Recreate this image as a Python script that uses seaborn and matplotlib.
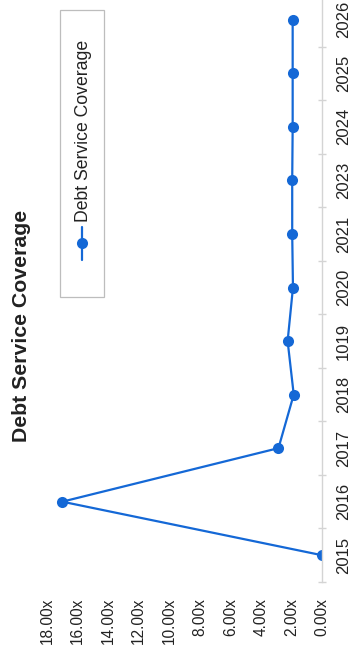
import numpy as np
import pandas as pd
import matplotlib
matplotlib.use("Agg")
import matplotlib.pyplot as plt
import seaborn as sns
from matplotlib.lines import Line2D
from matplotlib.patches import Rectangle

# ---- data ----
years = ['2015', '2016', '2017', '2018', '1019', '2020', '2021', '2023', '2024', '2025', '2026']
coverage = [0.0, 17.0, 2.85, 1.85, 2.25, 1.9, 1.95, 1.95, 1.92, 1.92, 1.92]
value_ticks = [0, 2, 4, 6, 8, 10, 12, 14, 16, 18]
value_labels = [f'{v:.2f}x' for v in value_ticks]
series_name = 'Debt Service Coverage'
title_text = 'Debt Service Coverage'

LINE_COLOR = '#1468d6'

sns.set_theme(style='white')
plt.rcParams['font.family'] = ['Liberation Sans', 'DejaVu Sans']

W, H = 353, 655
fig = plt.figure(figsize=(W / 100, H / 100), dpi=100)
fig.patch.set_facecolor('white')

# chart is drawn rotated: value axis runs right-to-left, categories bottom-to-top
ax = fig.add_axes([47 / W, 73 / H, 275 / W, 589 / H])
df = pd.DataFrame({'pos': np.arange(len(years)), 'value': coverage})
sns.lineplot(data=df, x='value', y='pos', orient='y', sort=False, estimator=None,
             marker='o', color=LINE_COLOR, linewidth=1.6, markersize=8,
             markeredgewidth=0, ax=ax, legend=False)

ax.set_xlim(18, 0)
ax.set_ylim(-0.5, len(years) - 0.5)
ax.set_xlabel('')
ax.set_ylabel('')

for s in ['left', 'top', 'bottom']:
    ax.spines[s].set_visible(False)
ax.spines['right'].set_color('#d4d4d4')
ax.spines['right'].set_linewidth(1.0)

ax.set_xticks(value_ticks)
ax.set_xticklabels(value_labels, rotation=90, fontsize=11.2, color='#222222')
ax.tick_params(axis='x', length=0, pad=11.5)

ax.yaxis.tick_right()
ax.set_yticks(np.arange(len(years)))
ax.set_yticklabels(years, rotation=90, va='center', fontsize=12, color='#222222')
ax.tick_params(axis='y', which='major', length=0, pad=10)
ax.set_yticks(np.arange(len(years) + 1) - 0.5, minor=True)
ax.tick_params(axis='y', which='minor', direction='inout', length=6,
               color='#d4d4d4', right=True, left=False)
ax.grid(False)

# title (rotated)
fig.text(22 / W, 1 - 326 / H, title_text, rotation=90, ha='center', va='center',
         fontsize=15.3, fontweight='bold', color='#222222')

# legend (rotated, drawn manually)
fig.patches.append(Rectangle((60 / W, 1 - 297 / H), 44 / W, 287 / H,
                             transform=fig.transFigure, fill=False,
                             edgecolor='#bdbdbd', linewidth=0.9))
fig.lines.append(Line2D([82 / W, 82 / W], [1 - 260 / H, 1 - 227 / H],
                        transform=fig.transFigure, color=LINE_COLOR, linewidth=1.6))
fig.lines.append(Line2D([82 / W], [1 - 243 / H], transform=fig.transFigure,
                        marker='o', markersize=8, markeredgewidth=0,
                        color=LINE_COLOR, linestyle='none'))
fig.text(83 / W, 1 - 222 / H, series_name, rotation=90, ha='center', va='bottom',
         fontsize=12.7, color='#222222')

fig.savefig('out.png', dpi=100)
